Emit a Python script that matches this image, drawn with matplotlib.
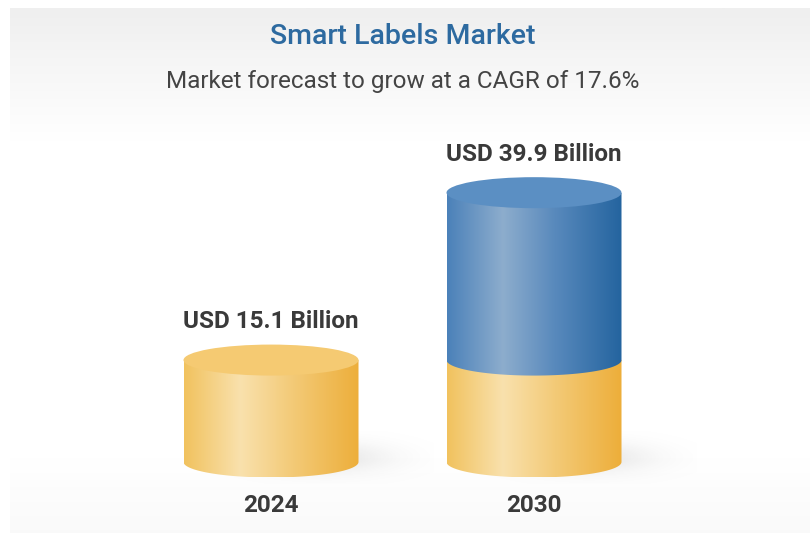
import numpy as np
import matplotlib.pyplot as plt
from matplotlib.patches import Ellipse, PathPatch
from matplotlib.path import Path
from matplotlib.colors import LinearSegmentedColormap, to_rgb

# datos
years = ["2024", "2030"]
values = [15.1, 39.9]
value_labels = ["USD 15.1 Billion", "USD 39.9 Billion"]
title = "Smart Labels Market"
subtitle = "Market forecast to grow at a CAGR of 17.6%"

plt.rcParams['font.family'] = ['Roboto', 'DejaVu Sans']

fig = plt.figure(figsize=(8.11, 5.33), dpi=100)
ax = fig.add_axes([0, 0, 1, 1])

# escala: x = indice de categoria, y = valor (mil millones)
px_per_unit = 6.75
x_pix0, x_step = 271, 263
y0_pix = 462
XL = (-x_pix0 / x_step, (811 - x_pix0) / x_step)
YL = (-(533 - y0_pix) / px_per_unit, y0_pix / px_per_unit)

half_w = 87.5 / x_step
half_h = 15.5 / px_per_unit

yellow_side = LinearSegmentedColormap.from_list(
    "ys", [(0, "#f1c25e"), (0.32, "#f9e1ad"), (0.62, "#f3ca77"), (1, "#edae3a")])
blue_side = LinearSegmentedColormap.from_list(
    "bs", [(0, "#4b81b9"), (0.32, "#8dadcd"), (0.62, "#5889bc"), (1, "#24649f")])
yellow_top = "#f5ca72"
blue_top = "#5b8fc3"

# fondo con degradado gris arriba
grad = np.linspace(0, 1, 200)[:, None]
top_c = np.array(to_rgb("#efefef"))
bg = np.ones((200, 1, 3))
fade = np.clip(grad / 0.25, 0, 1)
bg[:, 0, :] = top_c * (1 - fade) + 1.0 * fade
bottom_fade = np.clip((grad - 0.86) / 0.14, 0, 1) * 0.02
bg[:, 0, :] -= bottom_fade
ax.imshow(bg, extent=[XL[0] + 10 / x_step, XL[1] - 2 / x_step, YL[0], YL[1] - 8 / px_per_unit],
          aspect='auto', zorder=0)


def body_patch(x, y0, y1):
    t = np.linspace(np.pi, 2 * np.pi, 60)
    arc = np.column_stack([x + half_w * np.cos(t), y0 + half_h * np.sin(t)])
    verts = np.vstack([[x - half_w, y1], arc, [x + half_w, y1], [x - half_w, y1]])
    codes = [Path.MOVETO] + [Path.LINETO] * (len(verts) - 2) + [Path.CLOSEPOLY]
    return PathPatch(Path(verts, codes), facecolor='none', edgecolor='none')


def draw_body(x, y0, y1, cmap, z):
    patch = body_patch(x, y0, y1)
    ax.add_patch(patch)
    g = np.linspace(0, 1, 256)[None, :]
    im = ax.imshow(g, cmap=cmap, extent=[x - half_w, x + half_w, y0 - half_h, y1],
                   aspect='auto', zorder=z, interpolation='bilinear')
    im.set_clip_path(patch)


def draw_shadow(x):
    nx, ny = 200, 80
    xs = np.linspace(-1, 1, nx)[None, :]
    ys = np.linspace(-1, 1, ny)[:, None]
    a = np.exp(-(xs ** 2 + ys ** 2) * 3.0) * 0.2
    rgba = np.zeros((ny, nx, 4))
    rgba[..., :3] = 0.55
    rgba[..., 3] = a
    ax.imshow(rgba, extent=[x - 0.2, x + 0.62, -half_h * 1.4, half_h * 2.0],
              aspect='auto', zorder=1, interpolation='bilinear')


base = values[0]
for i, (yr, val, lab) in enumerate(zip(years, values, value_labels)):
    draw_shadow(i)
    if i == 0:
        draw_body(i, 0, val, yellow_side, 2)
        ax.add_patch(Ellipse((i, val), 2 * half_w, 2 * half_h, facecolor=yellow_top,
                             edgecolor='none', zorder=3))
    else:
        draw_body(i, 0, base, yellow_side, 2)
        draw_body(i, base, val, blue_side, 3)
        ax.add_patch(Ellipse((i, val), 2 * half_w, 2 * half_h, facecolor=blue_top,
                             edgecolor='none', zorder=4))
    ax.text(i, val + half_h + 23 / px_per_unit, lab, ha='center', va='center',
            fontsize=17.5, fontweight='bold', color='#3a3a3a', zorder=5)
    ax.text(i, -43 / px_per_unit, yr, ha='center', va='center',
            fontsize=17.5, fontweight='bold', color='#3a3a3a', zorder=5)

fig.text(403 / 811, 1 - 37 / 533, title, ha='center', va='center',
         fontsize=20.5, fontweight='medium', color='#2d6aa0')
fig.text(403 / 811, 1 - 81 / 533, subtitle, ha='center', va='center',
         fontsize=17.5, color='#444444')

ax.set_xlim(*XL)
ax.set_ylim(*YL)
ax.axis('off')

fig.savefig("out.png", dpi=100, facecolor='white')
